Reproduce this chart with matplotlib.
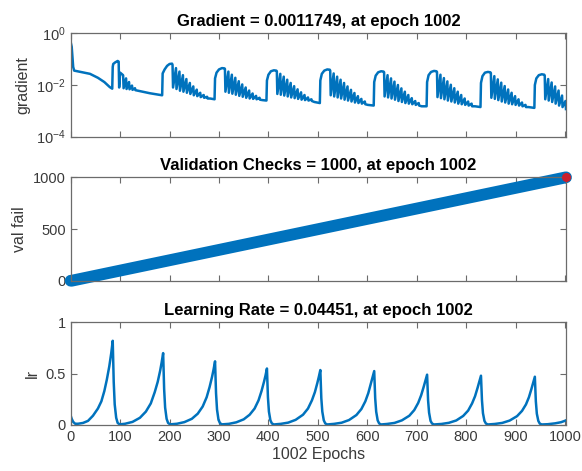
import matplotlib
matplotlib.use("Agg")
import matplotlib.pyplot as plt
from matplotlib.ticker import FixedLocator, NullLocator, LogFormatterMathtext

plt.rcParams['font.family'] = ['Liberation Sans', 'DejaVu Sans']

# ---- data ----
# gradient (log scale), one line per training cycle
grad_epochs = [
    0, 2, 5, 7, 20, 39, 55, 68, 79, 84,
    85, 86, 90, 95, 97, 98, 100, 106, 107, 112, 113, 118, 119, 124, 125, 130, 131, 140, 160, 185,
    186, 190, 195, 200, 205, 206, 207, 213, 214, 220, 221, 227, 228, 234, 235, 241, 242, 248, 249, 255, 256, 262, 263, 269, 270, 276, 277, 282, 291,
    292, 295, 300, 306, 311, 312, 313, 319, 320, 326, 327, 333, 334, 340, 341, 347, 348, 354, 355, 361, 362, 368, 369, 375, 376, 382, 383, 388, 396,
    397, 400, 405, 411, 416, 417, 418, 424, 425, 431, 432, 438, 439, 445, 446, 452, 453, 459, 460, 466, 467, 473, 474, 480, 481, 487, 488, 493, 504,
    505, 508, 513, 519, 524, 525, 526, 532, 533, 539, 540, 546, 547, 553, 554, 560, 561, 567, 568, 574, 575, 581, 582, 588, 589, 595, 596, 601, 613,
    614, 617, 622, 628, 633, 634, 635, 641, 642, 648, 649, 655, 656, 662, 663, 669, 670, 676, 677, 683, 684, 690, 691, 697, 698, 704, 705, 710, 720,
    721, 724, 729, 735, 740, 741, 742, 748, 749, 755, 756, 762, 763, 769, 770, 776, 777, 783, 784, 790, 791, 797, 798, 804, 805, 811, 812, 818, 829,
    830, 833, 838, 844, 849, 850, 851, 857, 858, 864, 865, 871, 872, 878, 879, 885, 886, 892, 893, 899, 900, 906, 907, 913, 914, 920, 921, 926, 938,
    939, 942, 947, 953, 958, 959, 960, 966, 967, 973, 974, 980, 981, 987, 988, 994, 995, 1001, 1002,
]
grad_values = [
    0.45, 0.3, 0.05, 0.036, 0.032, 0.027, 0.019, 0.013, 0.0083, 0.0072,
    0.05, 0.065, 0.075, 0.085, 0.08, 0.008, 0.03, 0.024, 0.0075, 0.018, 0.007, 0.013, 0.0068, 0.0095, 0.0065, 0.0075, 0.0063, 0.0058, 0.0048, 0.004,
    0.028, 0.04, 0.055, 0.065, 0.067, 0.06, 0.008, 0.045, 0.007, 0.033, 0.006, 0.024, 0.0055, 0.017, 0.005, 0.012, 0.0045, 0.0088, 0.004, 0.0066, 0.0037, 0.005, 0.0034, 0.0041, 0.0032, 0.0035, 0.003, 0.003, 0.0028,
    0.018, 0.03, 0.04, 0.045, 0.044, 0.042, 0.0055, 0.033, 0.005, 0.025, 0.0046, 0.019, 0.0042, 0.014, 0.0038, 0.0105, 0.0035, 0.008, 0.0032, 0.0061, 0.003, 0.0047, 0.0029, 0.0038, 0.0028, 0.0032, 0.0027, 0.0026, 0.0025,
    0.015, 0.025, 0.034, 0.037, 0.036, 0.034, 0.0045, 0.027, 0.0042, 0.021, 0.0039, 0.016, 0.0036, 0.012, 0.0033, 0.009, 0.0031, 0.0068, 0.0029, 0.0052, 0.0027, 0.0041, 0.0026, 0.0033, 0.0025, 0.0028, 0.0024, 0.0022, 0.002,
    0.015, 0.027, 0.036, 0.04, 0.039, 0.036, 0.004, 0.028, 0.0036, 0.021, 0.0033, 0.016, 0.003, 0.012, 0.0027, 0.0088, 0.0025, 0.0065, 0.0023, 0.0049, 0.0021, 0.0037, 0.002, 0.0029, 0.0019, 0.0023, 0.0018, 0.0017, 0.0016,
    0.013, 0.023, 0.031, 0.034, 0.033, 0.031, 0.0036, 0.024, 0.0033, 0.018, 0.003, 0.0135, 0.0027, 0.01, 0.0024, 0.0074, 0.0022, 0.0055, 0.002, 0.0041, 0.0019, 0.0031, 0.0018, 0.0024, 0.0017, 0.002, 0.0016, 0.0015, 0.0015,
    0.013, 0.024, 0.032, 0.035, 0.034, 0.032, 0.0034, 0.025, 0.0031, 0.0185, 0.0028, 0.0138, 0.0025, 0.0102, 0.0023, 0.0075, 0.0021, 0.0055, 0.0019, 0.0041, 0.0018, 0.003, 0.0017, 0.0023, 0.0016, 0.0019, 0.0015, 0.0015, 0.0014,
    0.012, 0.022, 0.03, 0.032, 0.031, 0.029, 0.0032, 0.022, 0.0029, 0.0165, 0.0026, 0.0123, 0.0023, 0.0091, 0.0021, 0.0067, 0.0019, 0.005, 0.0018, 0.0037, 0.0017, 0.0028, 0.0016, 0.0021, 0.0015, 0.0017, 0.0014, 0.0014, 0.0013,
    0.01, 0.018, 0.024, 0.026, 0.025, 0.023, 0.0028, 0.017, 0.0025, 0.0125, 0.0022, 0.0088, 0.0019, 0.0061, 0.0016, 0.0039, 0.0014, 0.0024, 0.00117,
]

# validation checks
val_epochs = [0, 2, 1002]
val_fail = [0, 0, 1000]

# learning rate
lr_epochs = [
    0, 2, 5, 9, 15, 25, 35, 45, 55, 62, 68, 73, 78, 82, 85, 87, 89, 92, 95, 99,
    110, 125, 140, 152, 162, 170, 176, 181, 184, 187, 189, 191, 194, 197, 201,
    215, 230, 245, 257, 267, 275, 281, 286, 289, 292, 294, 296, 299, 302, 306,
    320, 335, 350, 362, 372, 380, 386, 391, 394, 397, 399, 401, 404, 407, 411,
    425, 440, 455, 470, 480, 488, 494, 499, 502, 505, 507, 509, 512, 515, 519,
    533, 548, 563, 578, 588, 596, 602, 607, 611, 614, 616, 618, 621, 624, 628,
    640, 655, 670, 685, 695, 703, 709, 714, 718, 721, 723, 725, 728, 731, 735,
    750, 765, 780, 794, 804, 812, 818, 823, 827, 830, 832, 834, 837, 840, 844,
    858, 873, 888, 903, 913, 921, 927, 932, 936, 939, 941, 943, 946, 949, 953,
    965, 980, 992, 1002,
]
lr_values = [
    0.09, 0.06, 0.03, 0.012, 0.012, 0.02, 0.04, 0.09, 0.16, 0.23, 0.33, 0.44, 0.57, 0.7, 0.82, 0.42, 0.2, 0.07, 0.02, 0.006,
    0.012, 0.03, 0.07, 0.13, 0.21, 0.32, 0.42, 0.53, 0.61, 0.70, 0.35, 0.17, 0.06, 0.02, 0.006,
    0.012, 0.028, 0.06, 0.11, 0.18, 0.27, 0.37, 0.47, 0.54, 0.62, 0.31, 0.15, 0.05, 0.018, 0.006,
    0.011, 0.026, 0.055, 0.1, 0.16, 0.24, 0.33, 0.42, 0.48, 0.55, 0.27, 0.13, 0.045, 0.015, 0.005,
    0.011, 0.023, 0.05, 0.1, 0.16, 0.24, 0.32, 0.41, 0.47, 0.535, 0.26, 0.13, 0.045, 0.015, 0.005,
    0.011, 0.022, 0.048, 0.097, 0.155, 0.23, 0.31, 0.40, 0.47, 0.525, 0.26, 0.13, 0.045, 0.015, 0.005,
    0.01, 0.02, 0.045, 0.09, 0.145, 0.215, 0.29, 0.37, 0.44, 0.49, 0.24, 0.12, 0.04, 0.014, 0.005,
    0.01, 0.021, 0.044, 0.088, 0.14, 0.21, 0.28, 0.36, 0.43, 0.48, 0.24, 0.115, 0.04, 0.014, 0.005,
    0.01, 0.02, 0.043, 0.086, 0.137, 0.2, 0.27, 0.35, 0.42, 0.47, 0.23, 0.11, 0.04, 0.013, 0.005,
    0.0075, 0.016, 0.027, 0.0445,
]

x_ticks = [0, 100, 200, 300, 400, 500, 600, 700, 800, 900, 1000]

blue = '#0072BD'
edge = '#6b6b6b'
txt = '#3a3a3a'

fig = plt.figure(figsize=(5.82, 4.71), dpi=100)
left, width = 0.1215, 0.851
ax1 = fig.add_axes([left, 0.7098, width, 0.2195])
ax2 = fig.add_axes([left, 0.404, width, 0.2195])
ax3 = fig.add_axes([left, 0.0977, width, 0.218])

for ax in (ax1, ax2, ax3):
    ax.set_xlim(0, 1002)
    ax.set_xticks(x_ticks)
    ax.tick_params(direction='in', length=4, width=0.8, color=edge,
                   labelsize=10.5, labelcolor=txt, top=True, right=True)
    for s in ax.spines.values():
        s.set_color(edge)
        s.set_linewidth(0.9)

# gradient
ax1.semilogy(grad_epochs, grad_values, color=blue, lw=1.8)
ax1.set_ylim(1e-4, 1)
ax1.yaxis.set_major_locator(FixedLocator([1e-4, 1e-2, 1]))
ax1.yaxis.set_major_formatter(LogFormatterMathtext())
ax1.yaxis.set_minor_locator(NullLocator())
ax1.tick_params(labelbottom=False)
ax1.set_ylabel('gradient', fontsize=11.5, color=txt)
ax1.set_title('Gradient = 0.0011749, at epoch 1002', fontsize=12, fontweight='bold', pad=5)

# validation checks
ax2.plot(val_epochs, val_fail, color=blue, lw=8.5, solid_capstyle='round', clip_on=False)
ax2.plot([val_epochs[-1]], [val_fail[-1]], 'o', color='#C8202E', ms=5.5, clip_on=False, zorder=5)
ax2.set_ylim(0, 1000)
ax2.set_yticks([0, 500, 1000])
ax2.tick_params(labelbottom=False)
ax2.set_ylabel('val fail', fontsize=11.5, color=txt)
ax2.set_title('Validation Checks = 1000, at epoch 1002', fontsize=12, fontweight='bold', pad=5)

# learning rate
ax3.plot(lr_epochs, lr_values, color=blue, lw=1.8)
ax3.set_ylim(0, 1)
ax3.set_yticks([0, 0.5, 1])
ax3.set_yticklabels(['0', '0.5', '1'])
ax3.set_ylabel('lr', fontsize=11.5, color=txt)
ax3.set_xlabel('1002 Epochs', fontsize=11.5, color=txt, labelpad=2)
ax3.set_title('Learning Rate = 0.04451, at epoch 1002', fontsize=12, fontweight='bold', pad=5)

fig.savefig('out.png', dpi=100)
